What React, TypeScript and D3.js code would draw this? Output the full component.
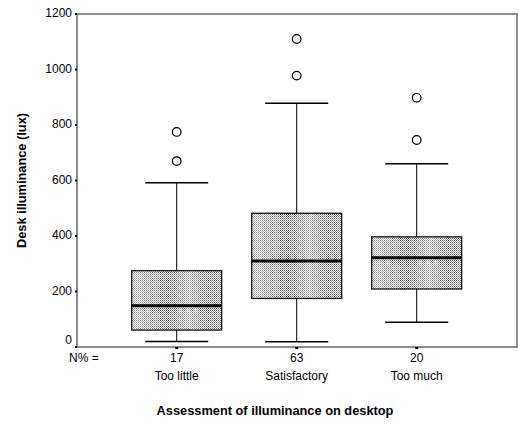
import React from "react";
import * as d3 from "d3";

const categories = ["Too little", "Satisfactory", "Too much"];
const nPercent = ["17", "63", "20"];
const whiskerLow = [20, 19, 89];
const q1 = [61, 175, 209];
const median = [149, 310, 322];
const q3 = [275, 482, 397];
const whiskerHigh = [592, 878, 660];
const outliers = [[670, 775], [978, 1110], [746, 898]];
const yTicks = [0, 200, 400, 600, 800, 1000, 1200];

const W = 519, H = 424;
const left = 77, right = 517, top = 14, bottom = 347;

export default function App() {
  const y = d3.scaleLinear().domain([0, 1200]).range([bottom, top]);
  const x = d3.scaleBand().domain(categories).range([131.7, 461.7]).paddingInner(0.25).paddingOuter(0);
  const font = "'Liberation Sans', Arial, sans-serif";
  const bw = x.bandwidth();
  return (
    <svg width={W} height={H} style={{ position: "absolute", left: 0, top: 0 }}>
      <defs>
        <pattern id="dots" width="2" height="2" patternUnits="userSpaceOnUse">
          <rect width="2" height="2" fill="#fff" />
          <rect width="1" height="1" fill="#333" />
          <rect x="1" y="1" width="1" height="1" fill="#888" />
        </pattern>
        <linearGradient id="shade" x1="0" x2="1" y1="0" y2="0">
          <stop offset="0" stopColor="#fff" stopOpacity="0.5" />
          <stop offset="0.2" stopColor="#fff" stopOpacity="0.35" />
          <stop offset="0.4" stopColor="#fff" stopOpacity="0.05" />
          <stop offset="0.65" stopColor="#fff" stopOpacity="0.5" />
          <stop offset="0.85" stopColor="#fff" stopOpacity="0.1" />
          <stop offset="1" stopColor="#fff" stopOpacity="0.25" />
        </linearGradient>
      </defs>
      <rect x={0} y={0} width={W} height={H} fill="#fff" />
      <rect x={left} y={top} width={right - left} height={bottom - top} fill="none" stroke="#444" strokeWidth={1.2} />
      {yTicks.map((t) => (
        <g key={t}>
          <rect x={left - 2} y={y(t) - 1} width={2} height={2} fill="#000" />
          <text x={72} y={t === 0 ? y(t) - 7 : y(t) - 1} dy="0.35em" textAnchor="end" fontFamily={font} fontSize={12} fill="#000">{t}</text>
        </g>
      ))}
      {categories.map((c, i) => {
        const x0 = x(c)!;
        const cx = x0 + bw / 2;
        const cap = bw * 0.35;
        return (
          <g key={c}>
            <line x1={cx} x2={cx} y1={y(whiskerHigh[i])} y2={y(q3[i])} stroke="#000" strokeWidth={1} />
            <line x1={cx} x2={cx} y1={y(q1[i])} y2={y(whiskerLow[i])} stroke="#000" strokeWidth={1} />
            <line x1={cx - cap} x2={cx + cap} y1={y(whiskerHigh[i])} y2={y(whiskerHigh[i])} stroke="#000" strokeWidth={1.5} />
            <line x1={cx - cap} x2={cx + cap} y1={y(whiskerLow[i])} y2={y(whiskerLow[i])} stroke="#000" strokeWidth={1.5} />
            <rect x={x0} y={y(q3[i])} width={bw} height={y(q1[i]) - y(q3[i])} fill="url(#dots)" />
            <rect x={x0} y={y(q3[i])} width={bw} height={y(q1[i]) - y(q3[i])} fill="url(#shade)" stroke="#111" strokeWidth={1.3} />
            <line x1={x0} x2={x0 + bw} y1={y(median[i])} y2={y(median[i])} stroke="#000" strokeWidth={3} />
            {outliers[i].map((o, j) => (
              <circle key={j} cx={cx} cy={y(o)} r={4.3} fill="#fff" stroke="#000" strokeWidth={1.2} />
            ))}
            <rect x={cx - 1.5} y={bottom} width={3} height={2} fill="#000" />
            <text x={cx} y={358} dy="0.35em" textAnchor="middle" fontFamily={font} fontSize={12} fill="#000">{nPercent[i]}</text>
            <text x={cx} y={376} dy="0.35em" textAnchor="middle" fontFamily={font} fontSize={12} fill="#000">{c}</text>
          </g>
        );
      })}
      <text x={69} y={358} dy="0.35em" fontFamily={font} fontSize={12} fill="#000">N% =</text>
      <text x={275} y={411} dy="0.35em" textAnchor="middle" fontFamily={font} fontSize={12.8} fontWeight="bold" fill="#000">Assessment of illuminance on desktop</text>
      <text transform={`translate(22,${(top + bottom) / 2}) rotate(-90)`} textAnchor="middle" dy="0.35em" fontFamily={font} fontSize={12.8} fontWeight="bold" fill="#000">Desk illuminance (lux)</text>
    </svg>
  );
}
